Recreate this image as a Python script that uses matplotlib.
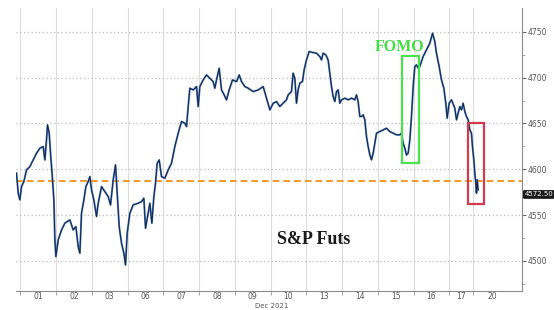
import numpy as np
import matplotlib
matplotlib.use("Agg")
import matplotlib.pyplot as plt
from matplotlib.patches import Rectangle

# === DATA ===
# x is in trading-day units: day k spans [k, k+1] on the axis
day_labels = ["01", "02", "03", "06", "07", "08", "09", "10", "13", "14", "15", "16", "17", "20"]
day_bounds = [0, 1, 2, 3, 4, 5, 6, 7, 8, 9, 10, 11, 12, 12.66]
label_pos = [0.5, 1.5, 2.5, 3.5, 4.5, 5.5, 6.5, 7.5, 8.5, 9.5, 10.5, 11.5, 12.33, 13.2]

t = [-0.107, -0.060, -0.014, 0.033, 0.098, 0.173, 0.266, 0.359, 0.453, 0.546,
     0.639, 0.686, 0.732, 0.760, 0.807, 0.844, 0.900, 0.938, 0.966, 0.994,
     1.059, 1.152, 1.245, 1.385, 1.478, 1.553, 1.618, 1.665, 1.711, 1.777,
     1.833, 1.898, 1.945, 1.991, 2.056, 2.131, 2.178, 2.271, 2.364, 2.457,
     2.523, 2.597, 2.662, 2.709, 2.765, 2.830, 2.896, 2.942, 2.989, 3.063,
     3.157, 3.296, 3.390, 3.455, 3.502, 3.558, 3.623, 3.679, 3.735, 3.781,
     3.828, 3.884, 3.949, 4.042, 4.136, 4.229, 4.322, 4.415, 4.509, 4.602,
     4.649, 4.695, 4.742, 4.835, 4.928, 4.975, 5.021, 5.115, 5.208, 5.301,
     5.394, 5.441, 5.488, 5.562, 5.628, 5.702, 5.767, 5.842, 5.935, 6.047,
     6.122, 6.187, 6.280, 6.373, 6.513, 6.653, 6.793, 6.886, 6.980, 7.073,
     7.166, 7.258, 7.352, 7.445, 7.492, 7.585, 7.631, 7.678, 7.725, 7.771,
     7.818, 7.893, 7.939, 8.004, 8.079, 8.191, 8.284, 8.377, 8.424, 8.471,
     8.545, 8.610, 8.658, 8.704, 8.751, 8.798, 8.844, 8.891, 8.937, 8.984,
     9.077, 9.171, 9.264, 9.357, 9.404, 9.450, 9.497, 9.544, 9.590, 9.637,
     9.683, 9.730, 9.777, 9.823, 9.870, 9.916, 9.963, 10.056, 10.150, 10.243,
     10.336, 10.429, 10.523, 10.616, 10.662, 10.709, 10.756, 10.802, 10.849, 10.896,
     10.942, 10.989, 11.035, 11.082, 11.129, 11.175, 11.268, 11.362, 11.455, 11.530,
     11.595, 11.641, 11.716, 11.781, 11.847, 11.902, 11.940, 11.996, 12.061, 12.154,
     12.201, 12.248, 12.294, 12.341, 12.387, 12.434, 12.480, 12.527, 12.574, 12.620,
     12.648, 12.686, 12.714, 12.742, 12.760, 12.779, 12.807]

price = [4595.7, 4573.8, 4566.6, 4581.1, 4586.6, 4599.3, 4602.9, 4610.2, 4617.5, 4623.0,
         4624.8, 4610.2, 4632.1, 4648.4, 4639.3, 4617.5, 4588.4, 4566.6, 4522.9, 4504.7,
         4522.9, 4533.8, 4541.1, 4544.7, 4533.8, 4537.4, 4515.6, 4508.3, 4552.0, 4566.6,
         4581.1, 4586.6, 4592.0, 4577.5, 4566.6, 4548.4, 4562.9, 4581.1, 4575.7, 4570.2,
         4561.1, 4588.4, 4604.8, 4573.8, 4537.4, 4519.3, 4508.3, 4495.6, 4530.2, 4552.0,
         4561.1, 4562.9, 4564.7, 4568.4, 4535.6, 4548.4, 4562.9, 4541.1, 4570.2, 4584.8,
         4606.6, 4610.2, 4592.0, 4590.2, 4599.3, 4606.6, 4624.8, 4639.3, 4652.1, 4650.3,
         4646.6, 4668.5, 4688.5, 4686.6, 4690.3, 4668.5, 4690.3, 4697.6, 4703.0, 4699.4,
         4695.7, 4688.5, 4697.6, 4710.3, 4686.6, 4681.2, 4675.7, 4686.6, 4697.6, 4695.7,
         4703.0, 4695.7, 4690.3, 4688.5, 4684.8, 4686.6, 4690.3, 4677.6, 4664.8, 4672.1,
         4673.9, 4668.5, 4672.1, 4675.8, 4681.2, 4684.9, 4704.9, 4699.4, 4672.1, 4686.7,
         4694.0, 4695.8, 4708.5, 4719.4, 4728.5, 4727.4, 4726.7, 4723.1, 4719.4, 4726.7,
         4724.9, 4719.4, 4704.9, 4690.3, 4679.4, 4673.9, 4684.9, 4686.7, 4672.1, 4675.8,
         4677.6, 4675.8, 4677.6, 4675.8, 4681.2, 4673.9, 4657.6, 4657.6, 4659.4, 4653.9,
         4635.7, 4624.8, 4615.7, 4610.3, 4617.5, 4628.5, 4639.4, 4641.2, 4643.0, 4644.8,
         4641.2, 4639.4, 4637.6, 4637.6, 4639.4, 4628.5, 4623.0, 4615.7, 4617.5, 4632.1,
         4657.6, 4690.3, 4712.2, 4714.0, 4710.3, 4712.2, 4723.1, 4730.3, 4737.6, 4748.5,
         4739.4, 4726.7, 4712.2, 4697.6, 4688.5, 4672.1, 4655.8, 4672.1, 4675.8, 4666.7,
         4653.9, 4661.2, 4668.5, 4664.8, 4672.1, 4663.0, 4657.6, 4653.9, 4643.0, 4639.4,
         4624.8, 4610.3, 4595.7, 4584.8, 4573.9, 4588.5, 4577.5]

ref_level = 4587
last_price = 4572.50
y_ticks = [4500, 4550, 4600, 4650, 4700, 4750]

# highlighted boxes: (x0, x1, y0, y1)
fomo_box = (10.67, 11.15, 4607, 4724)
drop_box = (12.53, 12.96, 4562, 4650)


def main():
    fig = plt.figure(figsize=(5.54, 3.10), dpi=100)
    ax = fig.add_axes([0.029, 0.061, 0.913, 0.913])

    ax.set_xlim(-0.12, 14.03)
    ax.set_ylim(4467, 4776)

    # grid: solid verticals at day boundaries, dotted horizontals
    for b in day_bounds:
        ax.axvline(b, color="#dcdcdc", lw=0.8, zorder=0)
    for yv in y_ticks:
        ax.axhline(yv, color="#bdbdbd", lw=0.9, ls=(0, (1, 2)), zorder=0)

    ax.axhline(ref_level, color="#f39a2b", lw=1.4, ls=(0, (3.5, 2)), zorder=1)

    ax.plot(t, price, color="#4a7fcc", lw=1.4, zorder=2)
    ax.plot(t, price, color="#18233d", lw=0.7, zorder=3)

    for (x0, x1, y0, y1), c in ((fomo_box, "#4fe04f"), (drop_box, "#d23a4e")):
        ax.add_patch(Rectangle((x0, y0), x1 - x0, y1 - y0, fill=False,
                               ec=c, lw=1.6, zorder=4))

    ax.text(10.6, 4733, "FOMO", color="#46dc46", fontsize=11.5, fontweight="bold",
            family="Liberation Serif", ha="center", va="center", zorder=5)
    ax.text(7.17, 4523, "S&P Futs", color="#1a1a1a", fontsize=13, fontweight="bold",
            family="Liberation Serif", ha="left", va="center", zorder=5)

    # axes styling
    for s in ("left", "top"):
        ax.spines[s].set_visible(False)
    ax.spines["right"].set_color("#8c8c8c")
    ax.spines["bottom"].set_color("#8c8c8c")
    ax.spines["right"].set_linewidth(0.8)
    ax.spines["bottom"].set_linewidth(0.8)

    ax.yaxis.tick_right()
    ax.set_yticks(y_ticks)
    ax.set_yticklabels([str(v) for v in y_ticks])
    ax.set_yticks([4475, 4525, 4575, 4625, 4675, 4725], minor=True)
    ax.tick_params(axis="y", which="major", length=3, width=0.8, color="#666666",
                   labelsize=5.5, labelcolor="#555555", pad=1.5)
    ax.tick_params(axis="y", which="minor", length=2, width=0.6, color="#999999")

    ax.set_xticks(day_bounds)
    ax.set_xticklabels([])
    ax.set_xticks(label_pos, minor=True)
    ax.set_xticklabels(day_labels, minor=True)
    ax.tick_params(axis="x", which="major", length=3, width=0.6, color="#999999")
    ax.tick_params(axis="x", which="minor", length=0, labelsize=5.5,
                   labelcolor="#555555", pad=1)

    ax.text(7.02, -0.052, "Dec 2021", transform=ax.get_xaxis_transform(),
            fontsize=5, color="#555555", ha="center", va="center")

    ax.text(14.1, last_price, "4572.50", fontsize=5, color="white", ha="left",
            va="center", clip_on=False, zorder=6,
            bbox=dict(boxstyle="round,pad=0.2", fc="#1a1a1a", ec="none"))

    fig.savefig("out.png", dpi=100, facecolor="white")


if __name__ == "__main__":
    main()
